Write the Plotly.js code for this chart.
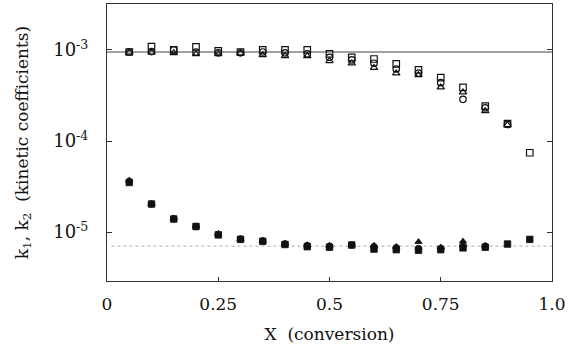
<!DOCTYPE html>
<html>
<head>
<meta charset="utf-8">
<script src="https://cdn.plot.ly/plotly-3.0.1.min.js"></script>
<style>html,body{margin:0;padding:0;background:#fff;}#chart{width:570px;height:354px;}</style>
</head>
<body>
<div id="chart"></div>
<script>
// Conversion values
const conversion = [0.05,0.10,0.15,0.20,0.25,0.30,0.35,0.40,0.45,0.50,0.55,0.60,0.65,0.70,0.75,0.80,0.85,0.90,0.95];

// Upper group (open symbols)
const k1Square = [9.5e-4,1.087e-3,1.0e-3,1.08e-3,9.75e-4,9.5e-4,1.0e-3,1.0e-3,1.0e-3,9.04e-4,8.31e-4,7.96e-4,7.02e-4,6.03e-4,4.96e-4,3.89e-4,2.42e-4,1.55e-4,7.43e-5];
const k1Circle = [9.5e-4,9.6e-4,1.0e-3,9.5e-4,9.3e-4,9.3e-4,9.5e-4,9.27e-4,9.04e-4,8.31e-4,7.77e-4,7.15e-4,6.18e-4,5.58e-4,4.37e-4,2.87e-4,2.31e-4,1.52e-4,null];
const k1Triangle = [9.4e-4,9.4e-4,9.27e-4,9.04e-4,9.04e-4,9.2e-4,8.8e-4,8.6e-4,8.6e-4,7.57e-4,7.15e-4,6.38e-4,5.54e-4,5.31e-4,3.89e-4,3.43e-4,2.14e-4,1.5e-4,null];

// Lower group (filled symbols)
const k2Square = [3.5e-5,2.03e-5,1.39e-5,1.15e-5,9.3e-6,8.3e-6,7.9e-6,7.3e-6,6.9e-6,6.8e-6,7.2e-6,6.5e-6,6.4e-6,6.3e-6,6.4e-6,6.7e-6,6.8e-6,7.38e-6,8.3e-6];
const k2Circle = [3.6e-5,2.03e-5,1.4e-5,1.15e-5,9.4e-6,8.4e-6,8.0e-6,7.4e-6,7.1e-6,7.0e-6,7.2e-6,6.9e-6,6.7e-6,6.6e-6,6.6e-6,7.0e-6,7.0e-6,null,null];
const k2Triangle = [3.7e-5,2.05e-5,1.42e-5,1.16e-5,9.6e-6,8.4e-6,8.0e-6,7.5e-6,7.2e-6,7.1e-6,7.2e-6,7.1e-6,6.9e-6,7.8e-6,6.8e-6,7.9e-6,7.1e-6,null,null];

// Reference levels
const refHighX = [0, 1];
const refHigh = [9.5e-4, 9.5e-4];
const refLowX = [0.01, 1];
const refLow = [7.0e-6, 7.0e-6];

// Tick labels
const xTickVals = [0, 0.25, 0.5, 0.75, 1.0];
const xTickText = ['0', '0.25', '0.5', '0.75', '1.0'];
const yTickVals = [1e-5, 1e-4, 1e-3];
const yTickText = ['10<sup>-5</sup>', '10<sup>-4</sup>', '10<sup>-3</sup>'];

const serif = 'DejaVu Serif';

function openTrace(y, symbol) {
  return {x: conversion, y: y, type: 'scatter', mode: 'markers', showlegend: false,
    marker: {symbol: symbol, size: 6.5, color: '#111', line: {color: '#111', width: 1.2}}};
}
function filledTrace(y, symbol) {
  return {x: conversion, y: y, type: 'scatter', mode: 'markers', showlegend: false,
    marker: {symbol: symbol, size: 6.5, color: '#111', line: {color: '#111', width: 0.8}}};
}

const data = [
  {x: refHighX, y: refHigh, type: 'scatter', mode: 'lines', showlegend: false, line: {color: '#444', width: 1}},
  {x: refLowX, y: refLow, type: 'scatter', mode: 'lines', showlegend: false, line: {color: '#aaa', width: 1, dash: 'dot'}},
  openTrace(k1Square, 'square-open'),
  openTrace(k1Circle, 'circle-open'),
  openTrace(k1Triangle, 'triangle-up-open'),
  filledTrace(k2Square, 'square'),
  filledTrace(k2Circle, 'circle'),
  filledTrace(k2Triangle, 'triangle-up')
];

const layout = {
  width: 570, height: 354,
  margin: {l: 107, r: 18, t: 4, b: 73},
  paper_bgcolor: '#fff', plot_bgcolor: '#fff',
  font: {family: serif, color: '#111', size: 17},
  xaxis: {
    range: [0, 1], tickvals: xTickVals, ticktext: xTickText,
    showgrid: false, zeroline: false, showline: true, linecolor: '#333', linewidth: 1, mirror: true,
    ticks: 'inside', ticklen: 4, tickcolor: '#333', ticklabelstandoff: 8,
    tickfont: {family: serif, size: 17, color: '#111'},
    title: {text: 'X  (conversion)', font: {family: serif, size: 17, color: '#111'}, standoff: 14}
  },
  yaxis: {
    type: 'log', range: [-5.538, -2.495], tickvals: yTickVals, ticktext: yTickText,
    showgrid: false, zeroline: false, showline: true, linecolor: '#333', linewidth: 1, mirror: 'ticks',
    ticks: 'inside', ticklen: 5, tickcolor: '#333', ticklabelstandoff: 14,
    tickfont: {family: serif, size: 18, color: '#111'},
    title: {text: 'k<sub>1</sub>, k<sub>2</sub>  (kinetic coefficients)', font: {family: serif, size: 17, color: '#111'}, standoff: 20}
  }
};

Plotly.newPlot('chart', data, layout, {displayModeBar: false, staticPlot: true});
</script>
</body>
</html>
